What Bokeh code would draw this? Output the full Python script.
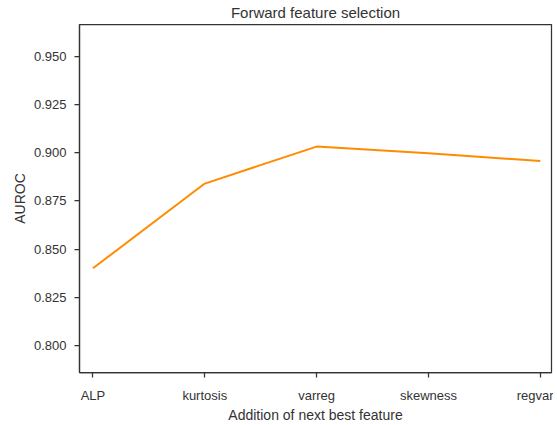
from bokeh.plotting import figure
from bokeh.models import FixedTicker, NumeralTickFormatter, Range1d, Title
from bokeh.embed import file_html
from bokeh.resources import INLINE

categories = ["ALP", "kurtosis", "varreg", "skewness", "regvar"]
auroc = [0.840, 0.884, 0.9032, 0.8998, 0.8957]
y_ticks = [0.800, 0.825, 0.850, 0.875, 0.900, 0.925, 0.950]

xs = list(range(len(categories)))
FONT = "Liberation Sans"
TXT = "#333333"

p = figure(width=553, height=425, output_backend="svg", toolbar_location=None,
           x_range=Range1d(-0.12, 4.1), y_range=Range1d(0.7859, 0.9666),
           min_border_left=79, min_border_right=2, min_border_top=24, min_border_bottom=40)

p.title = Title(text="Forward feature selection", align="center",
                text_font=FONT, text_font_size="15px", text_font_style="normal",
                text_color=TXT, standoff=5, vertical_align="middle")

p.line(xs, auroc, line_color="#ff8c00", line_width=2)

p.xgrid.visible = False
p.ygrid.visible = False
p.outline_line_color = "#333333"
p.outline_line_width = 1.25

for ax in (p.xaxis[0], p.yaxis[0]):
    ax.axis_line_color = "#333333"
    ax.axis_line_width = 1.25
    ax.major_tick_line_color = "#333333"
    ax.major_tick_line_width = 1.25
    ax.major_tick_out = 5
    ax.major_tick_in = 0
    ax.minor_tick_line_color = None
    ax.major_label_text_font = FONT
    ax.major_label_text_font_size = "13px"
    ax.major_label_text_color = TXT
    ax.axis_label_text_font = FONT
    ax.axis_label_text_font_size = "14px"
    ax.axis_label_text_font_style = "normal"
    ax.axis_label_text_color = TXT

p.xaxis.ticker = FixedTicker(ticks=xs)
p.xaxis.major_label_overrides = {i: c for i, c in zip(xs, categories)}
p.xaxis.axis_label = "Addition of next best feature"
p.xaxis.major_label_standoff = 10
p.xaxis.axis_label_standoff = 1

p.yaxis.ticker = FixedTicker(ticks=y_ticks)
p.yaxis.formatter = NumeralTickFormatter(format="0.000")
p.yaxis.axis_label = "AUROC"
p.yaxis.major_label_standoff = 8
p.yaxis.axis_label_standoff = 3

open("out.html", "w").write(file_html(p, INLINE))
